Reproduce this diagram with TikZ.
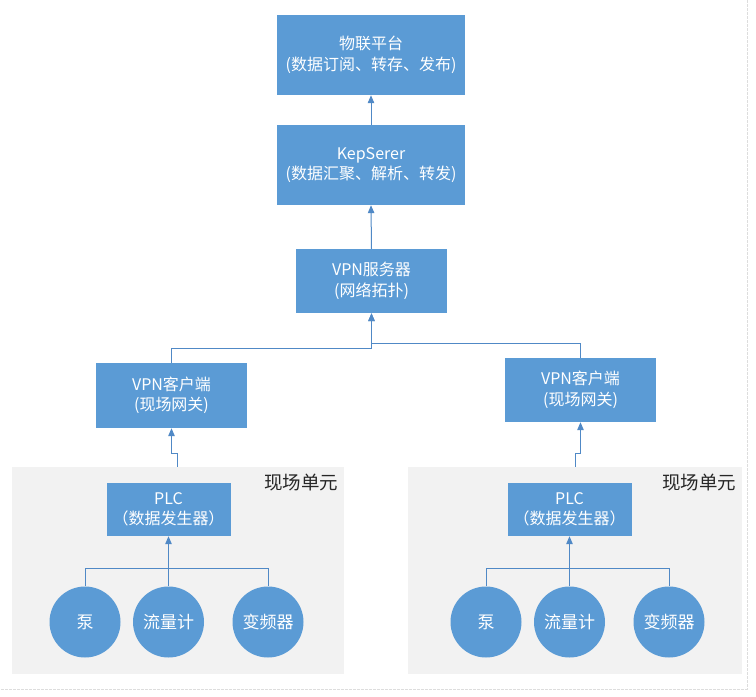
\documentclass[tikz,border=0pt]{standalone}
\usepackage{fontspec}
\setmainfont{Noto Sans CJK SC}
\usetikzlibrary{arrows.meta}
\definecolor{boxblue}{HTML}{5B9BD5}
\definecolor{linkblue}{HTML}{5089C6}
\definecolor{unitgray}{HTML}{F2F2F2}
\definecolor{framegray}{HTML}{DDDDDD}
\tikzset{
  bluebox/.style={rectangle, fill=boxblue, text=white, inner sep=0pt, align=center,
    font=\fontsize{16}{20.5}\selectfont},
  unit/.style={rectangle, fill=unitgray, inner sep=0pt},
  dev/.style={circle, fill=boxblue, text=white, inner sep=0pt, minimum size=71pt,
    font=\fontsize{17}{20}\selectfont},
  unitlabel/.style={anchor=west, inner sep=0pt, text=black!85, font=\fontsize{18.5}{20}\selectfont},
  link/.style={draw=linkblue, line width=1pt},
  arr/.style={link, -{Triangle[width=6.5pt,length=8pt]}},
}
\begin{document}
\begin{tikzpicture}[x=1pt,y=-1pt]
\useasboundingbox (0,0) rectangle (756,697);
\fill[white] (0,0) rectangle (756,697);
\draw[framegray, line width=0.8pt, dash pattern=on 3pt off 1pt] (747,0) -- (747,689) -- (0,689);

% field units
\node[unit, minimum width=332pt, minimum height=207pt] (gL) at (178,570.5) {};
\node[unit, minimum width=334pt, minimum height=207pt] (gR) at (575,570.5) {};
\node[unitlabel] (lbL) at (264,483) {现场单元};
\node[unitlabel] (lbR) at (662,483) {现场单元};

% boxes
\node[bluebox, minimum width=188pt, minimum height=80pt] (top) at (371,55) {物联平台\\(数据订阅、转存、发布)};
\node[bluebox, minimum width=188pt, minimum height=80pt] (kep) at (371,165) {KepSerer\\(数据汇聚、解析、转发)};
\node[bluebox, minimum width=151pt, minimum height=64pt] (srv) at (371.5,281) {VPN服务器\\(网络拓扑)};
\node[bluebox, minimum width=151pt, minimum height=65pt] (lc) at (171.5,395.5) {VPN客户端\\(现场网关)};
\node[bluebox, minimum width=151pt, minimum height=64pt] (rc) at (580.5,390) {VPN客户端\\(现场网关)};
\node[bluebox, minimum width=124pt, minimum height=53pt] (plcL) at (168.5,509.5) {PLC\\\kern5pt（数据发生器）\kern5pt};
\node[bluebox, minimum width=124pt, minimum height=53pt] (plcR) at (569.5,509.5) {PLC\\\kern5pt（数据发生器）\kern5pt};

% devices
\node[dev] (c1L) at (85,622) {泵};
\node[dev] (c2L) at (168.5,622) {流量计};
\node[dev] (c3L) at (268,622) {变频器};
\node[dev] (c1R) at (486,622) {泵};
\node[dev] (c2R) at (569.5,622) {流量计};
\node[dev] (c3R) at (669,622) {变频器};

% connectors
\draw[arr] (kep.north) -- (top.south);
\draw[arr] (srv.north) -- (kep.south);
\coordinate (jL) at (371.5,348);
\coordinate (jR) at (371.5,343);
\draw[arr] (lc.north) |- (jL) -- (srv.south);
\draw[arr] (rc.north) |- (jR) -- (srv.south);

\coordinate (aL) at (177,453);
\draw[arr] (gL.north -| aL) -- (aL) -- (aL -| lc.south) -- (lc.south);
\coordinate (aR) at (575,453);
\draw[arr] (gR.north -| aR) -- (aR) -- (aR -| rc.south) -- (rc.south);

\coordinate (bL) at (168.5,568);
\draw[link] (c1L.north) -- (c1L.north |- bL) -- (c3L.north |- bL) -- (c3L.north);
\draw[arr] (c2L.north) -- (plcL.south);
\coordinate (bR) at (569.5,568);
\draw[link] (c1R.north) -- (c1R.north |- bR) -- (c3R.north |- bR) -- (c3R.north);
\draw[arr] (c2R.north) -- (plcR.south);
\end{tikzpicture}
\end{document}
